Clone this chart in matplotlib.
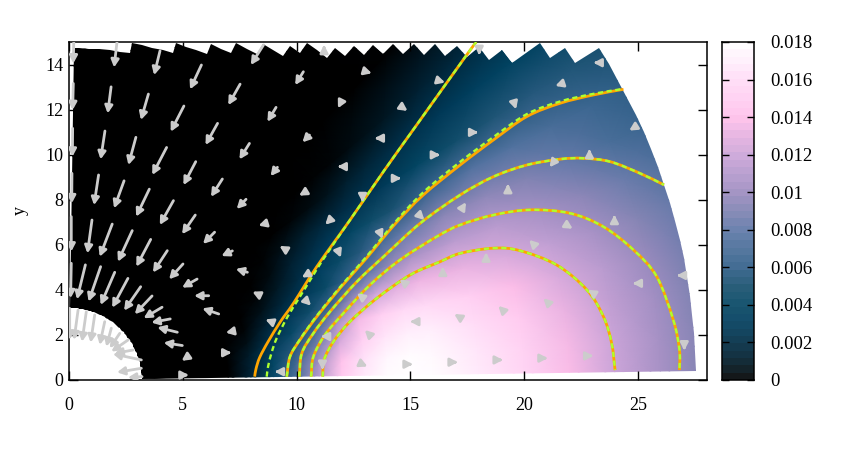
#!/usr/bin/env python3
import numpy as np
import matplotlib; matplotlib.use("Agg")
import matplotlib.pyplot as plt
from matplotlib.colors import LinearSegmentedColormap
from matplotlib.patches import FancyArrowPatch, PathPatch, Polygon
from matplotlib.path import Path

plt.rcParams["font.family"] = ["Liberation Serif", "DejaVu Serif"]

# field, rows = angle (deg), columns = radius, unit 1e-4
r_nodes = [3, 7, 8, 9, 10, 11, 12, 13, 14, 15, 16, 18, 20, 22, 24, 26, 28]
theta_nodes = [0, 4, 8, 12, 16, 20, 24, 28, 32, 36, 40, 46, 60, 90]
field = [
    [0, 0, 15, 44, 72, 112, 147, 167, 178, 180, 178, 168, 155, 138, 120, 105, 90],
    [0, 0, 14, 40, 67, 104, 142, 163, 175, 178, 176, 165, 152, 136, 119, 104, 90],
    [0, 0, 10, 33, 55, 86, 124, 150, 164, 170, 170, 160, 147, 132, 116, 102, 88],
    [0, 0, 5, 23, 42, 63, 104, 135, 150, 157, 158, 150, 138, 125, 112, 98, 85],
    [0, 0, 2, 13, 28, 46, 65, 100, 120, 128, 133, 132, 125, 115, 104, 92, 81],
    [0, 0, 0, 6, 17, 29, 43, 60, 80, 96, 105, 113, 112, 103, 94, 83, 73],
    [0, 0, 0, 2, 9, 20, 31, 43, 55, 69, 81, 93, 95, 90, 81, 71, 63],
    [0, 0, 0, 0, 4, 12, 21, 30, 38, 45, 51, 65, 75, 74, 70, 64, 58],
    [0, 0, 0, 0, 1, 5, 10, 16, 19, 24, 28, 38, 47, 53, 55, 54, 51],
    [0, 0, 0, 0, 0, 0, 2, 4, 7, 11, 15, 22, 28, 33, 36, 37, 35],
    [0, 0, 0, 0, 0, 0, 0, 0, 1, 2, 4, 8, 13, 17, 20, 22, 22],
    [0, 0, 0, 0, 0, 0, 0, 0, 0, 0, 0, 0, 1, 2, 4, 5, 5],
    [0] * 17,
    [0] * 17,
]

palette = ["#000000", "#001c2b", "#002c44", "#003c5c", "#044764", "#17506e", "#32608a", "#486d98", "#5f78a8",
           "#8083b2", "#9d8cc0", "#b498cc", "#cca5d9", "#e5b0e0", "#ffc0ea", "#ffcff2", "#ffdcf7", "#ffeffc", "#ffffff"]

# contours: orange solid and green dashed
c1_x = [8.16, 8.22, 8.38, 8.75, 9.3, 9.86, 10.89, 12.35, 13.82, 15.28, 17.48, 17.9]
c1_y = [.15, .5, 1.0, 1.7, 2.6, 3.4, 5.03, 7.1, 9.25, 11.32, 14.43, 15]
g1_x = [8.69, 8.75, 8.9, 9.13, 9.6, 10.15, 10.7, 11.2, 12.35, 13.82, 15.28, 17.48, 17.9]
g1_y = [.15, .6, 1.2, 1.86, 2.8, 3.7, 4.6, 5.4, 7.1, 9.25, 11.32, 14.43, 15]
c2_x = [9.57, 9.71, 10.15, 10.89, 11.91, 13.01, 14.33, 15.56, 17.19, 18.65, 20.12, 21.58, 23.05, 24.37]
c2_y = [.15, 1.03, 1.78, 2.81, 4.07, 5.33, 6.92, 8.2, 9.54, 10.65, 11.69, 12.28, 12.65, 12.9]
g2_y = [.15, 1.03, 1.8, 2.85, 4.12, 5.4, 7.0, 8.32, 9.68, 10.78, 11.8, 12.36, 12.7, 12.92]
c3_x = [10.12, 10.23, 10.74, 11.47, 12.65, 13.82, 15.43, 17.19, 18.65, 20.12, 21.58, 22.6, 23.78, 25.1, 26.15]
c3_y = [.15, 1.18, 2.07, 3.03, 4.36, 5.47, 6.95, 8.21, 9.02, 9.54, 9.8, 9.84, 9.69, 9.17, 8.66]
c4_x = [10.64, 10.74, 11.25, 12.06, 13.23, 14.55, 16.16, 17.19, 18.65, 20.26, 22.02, 23.49, 24.81, 25.83, 26.56, 26.83, 26.83]
c4_y = [.15, 1.03, 2.0, 2.96, 4.22, 5.33, 6.36, 6.88, 7.32, 7.55, 7.4, 6.8, 5.77, 4.59, 2.66, 1.33, .44]
c5_x = [11.15, 11.21, 11.62, 12.35, 13.53, 14.99, 16.31, 17.19, 18.65, 19.82, 21.44, 22.76, 23.49, 23.85, 24.0]
c5_y = [.15, .89, 1.7, 2.59, 3.63, 4.66, 5.25, 5.62, 5.85, 5.74, 5.1, 4.0, 2.81, 1.63, .44]

# long arrows tail -> tip
long_x0 = [.22, 2.17, 4.0, 5.82, 7.52, 9.1, 8.55, 10.3, 10.57, 6.12,
           .19, 1.85, 3.49, 5.05, 6.53, 7.93, 9.16,
           .16, 1.58, 2.94, 4.29, 5.57, 6.74, 7.78, 8.69,
           .13, 1.3, 2.42, 3.53, 4.59, 5.55, 6.4, 7.18, 7.84, 8.38, 9.5,
           .1, 1.01, 1.9, 2.78, 3.59, 4.32, 5.01, 5.63, 6.14, 6.58,
           .1, .72, 1.39, 2.01, 2.59, 3.15, 3.65, 4.09, 4.45, 4.76, 4.98,
           .03, .4, .76, 1.13, 1.57, 1.86, 2.23, 2.6, 2.81, 3.18, 3.18, 3.21]
long_y0 = [15.53, 15.53, 14.61, 13.98, 13.13, 12.1, 14.87, 13.68, 10.87, 15.6,
           13.16, 13.01, 12.69, 12.16, 11.39, 10.5, 9.44,
           11.17, 11.05, 10.77, 10.32, 9.69, 8.92, 8.02, 6.96,
           9.17, 9.1, 8.84, 8.47, 7.96, 7.32, 6.56, 5.73, 4.78, 3.77, 5.8,
           7.25, 7.1, 6.92, 6.63, 6.24, 5.74, 5.15, 4.48, 3.74, 2.93,
           5.18, 5.11, 5.03, 4.78, 4.51, 4.14, 3.73, 3.23, 2.71, 2.12, 1.53,
           3.18, 3.11, 3.03, 2.89, 2.59, 2.3, 2.07, 1.78, 1.33, .89, .52, .15]
long_x1 = [.19, 1.98, 3.74, 5.32, 7.0, 8.72, 7.99, 9.94, 10.26, 5.98,
           .16, 1.7, 3.16, 4.47, 6.0, 7.49, 8.86,
           .15, 1.39, 2.61, 3.66, 5.03, 6.24, 7.37, 8.33,
           .12, 1.1, 1.98, 2.95, 3.99, 4.97, 5.89, 6.7, 7.33, 8.06, 9.25,
           .1, .81, 1.35, 2.15, 2.96, 3.69, 4.4, 4.97, 5.5, 5.86,
           .07, .35, .86, 1.39, 1.9, 2.42, 2.89, 3.28, 3.62, 3.88, 4.16,
           .03, .22, .57, .95, 1.35, 1.64, 1.79, 1.86, 2.0, 1.93, 2.11, 2.59]
long_y1 = [14.05, 13.87, 13.53, 12.9, 12.2, 11.46, 13.98, 13.09, 10.55, 14.95,
           11.98, 11.83, 11.54, 11.02, 10.43, 9.79, 9.05,
           9.91, 9.79, 9.54, 9.1, 8.65, 8.13, 7.59, 6.85,
           7.84, 7.76, 7.62, 7.25, 6.88, 6.47, 6.04, 5.5, 4.93, 3.92, 5.95,
           5.7, 5.62, 5.47, 5.25, 5.03, 4.77, 4.47, 4.1, 3.74, 3.18,
           3.63, 3.58, 3.48, 3.33, 3.21, 3.08, 2.92, 2.74, 2.55, 2.34, 1.66,
           1.78, 1.78, 1.7, 1.66, 1.56, 1.48, 1.41, 1.26, 1.18, 1.16, .34, .11]

# short arrows, only the head shows: tip and direction
short_x = [8.63, 9.04, 6.89, 7.14, 4.95, 5.26, 13.31, 11.82, 13.43, 11.8, 10.11, 14.88, 16.53, 16.31, 14.6, 12.9, 11.21,
           10.23, 11.26, 11.95, 10.64, 13.78, 12.65, 11.07, 11.14, 15.62, 14.52, 13.0, 13.12, 14.99, 15.11, 16.43, 16.93, 17.09,
           18.03, 23.05, 21.37, 19.65, 17.99, 24.62, 22.87, 21.12, 19.29, 17.45, 23.97,
           22.14, 20.22, 18.33, 22.8, 24.77, 26.71, 20.85, 18.87, 23.05, 21.04, 19.07, 27.04]
short_y = [2.69, .37, 2.1, 1.21, .85, .22, 13.61, 12.06, 10.73, 9.47, 8.18, 11.94, 13.2, 9.99, 8.95, 7.89, 14.87,
           4.55, 6.89, 5.43, 3.3, 6.26, 3.85, 1.93, .45, 7.1, 4.47, 2.22, .6, 2.59, .7, 5.03, 2.93, .79,
           14.42, 14.08, 13.05, 12.01, 10.99, 11.07, 10.25, 9.44, 8.7, 7.89, 7.33,
           6.71, 6.22, 5.66, 4.0, 4.29, 4.64, 3.63, 3.29, 1.07, .97, .89, 1.31]
short_dx = [-1, -1, -1, 1, -1, 1, 1, -.5, -1, -1, -1, 1, 1, 1, 1, 0, 0,
            -.7, -.7, .4, .7, .4, -.8, -1, 0, .7, -.8, -.7, .9, -1, 1, 0, -.8, 1,
            0, -1, -.9, .3, 1, -.8, 0, -.6, 0, .5, 0,
            .8, -.7, 0, -.8, -1, -1, -.7, -.7, 1, 1, 1, 0]
short_dy = [.4, 0, -.2, 0, -.7, 0, -.3, -1, 0, 0, -.6, -.7, -.3, 0, 0, -1, 1,
            -.4, -.7, -1, -.7, -1, .6, 0, -1, -.7, .6, .7, -.4, 0, 0, 1, .5, 0,
            -1, 0, -.3, -1, 0, -.5, 1, -.8, 1, .8, 1,
            -.5, .7, 1, .5, 0, 0, .7, .7, 0, 0, 0, -1]

x_ticks = [0, 5, 10, 15, 20, 25]
y_ticks = [0, 2, 4, 6, 8, 10, 12, 14]
bar_ticks = [0, .002, .004, .006, .008, .01, .012, .014, .016, .018]
bar_labels = ["0", "0.002", "0.004", "0.006", "0.008", "0.01", "0.012", "0.014", "0.016", "0.018"]

W, H = 862, 453
fig = plt.figure(figsize=(W / 100, H / 100), dpi=100)
ax = fig.add_axes([69 / W, 1 - 380 / H, 638 / W, 338 / H])
cax = fig.add_axes([722 / W, 1 - 380 / H, 32 / W, 338 / H])
cmap = LinearSegmentedColormap.from_list("field", palette, N=256)

R, T = np.meshgrid(r_nodes, np.radians(theta_nodes))
mesh = ax.pcolormesh(R * np.cos(T), R * np.sin(T), np.array(field) * 1e-4, shading="gouraud",
                     cmap=cmap, vmin=0, vmax=.018, zorder=1)

# clip outline: log-polar cells, sawtooth where they stop below the top of the plot
R_IN, R_OUT, DT = 3.2, 27.55, 1.75
DL = np.radians(DT)
outline = []
th = .8
while th < 89.2 - 1e-6:
    hi = min(th + DT, 89.2)
    k = np.floor(np.log(15.0 / np.sin(np.radians(hi)) / R_IN) / DL)
    rend = min(R_OUT, R_IN * np.exp(k * DL))
    for a in (th, hi):
        outline.append((rend * np.cos(np.radians(a)), rend * np.sin(np.radians(a))))
    th = hi
for a in np.linspace(89.2, .8, 60):
    outline.append((R_IN * np.cos(np.radians(a)), R_IN * np.sin(np.radians(a))))
mesh.set_clip_path(Polygon(outline, closed=True, transform=ax.transData))

def smooth(x, y):
    # bezier through the read points
    p = np.column_stack([x, y])
    t = np.gradient(p, axis=0) / 3
    verts = [p[0]]
    for i in range(len(p) - 1):
        verts += [p[i] + t[i], p[i + 1] - t[i + 1], p[i + 1]]
    return Path(verts, [Path.MOVETO] + [Path.CURVE4] * (3 * (len(p) - 1)))

ORANGE, GREEN = "#ffa500", "#adff2f"
for x, y in [(c1_x, c1_y), (c2_x, c2_y), (c3_x, c3_y), (c4_x, c4_y), (c5_x, c5_y)]:
    ax.add_patch(PathPatch(smooth(x, y), fc="none", ec=ORANGE, lw=2.0, zorder=2, capstyle="butt"))
for x, y in [(g1_x, g1_y), (c2_x, g2_y), (c3_x, c3_y), (c4_x, c4_y), (c5_x, c5_y)]:
    ax.add_patch(PathPatch(smooth(x, y), fc="none", ec=GREEN, lw=1.7, ls=(0, (2.2, 1.5)), zorder=3, capstyle="butt"))

GREY = "#cccccc"
STYLE = "-|>,head_length=0.8,head_width=0.42"
def arrow(p0, p1):
    ax.add_patch(FancyArrowPatch(p0, p1, arrowstyle=STYLE, mutation_scale=5.5, lw=2.0, color=GREY,
                                 shrinkA=0, shrinkB=0, zorder=4))
for x0, y0, x1, y1 in zip(long_x0, long_y0, long_x1, long_y1):
    arrow((x0, y0), (x1, y1))
for x, y, dx, dy in zip(short_x, short_y, short_dx, short_dy):
    n = np.hypot(dx, dy) / .2
    arrow((x - dx / n, y - dy / n), (x, y))

ax.set_xlim(0, 28.04)
ax.set_ylim(0, 15)
ax.set_xticks(x_ticks)
ax.set_yticks(y_ticks)
ax.tick_params(direction="in", length=6.5, width=1, top=True, right=True, labelsize=13)
ax.tick_params(axis="x", pad=12)
ax.tick_params(axis="y", pad=4)
for s in ax.spines.values():
    s.set_linewidth(1.1)

levels = np.linspace(0, .018, 47)
cax.pcolormesh([0, 1], levels, ((levels[:-1] + levels[1:]) / 2)[:, None], cmap=cmap, vmin=0, vmax=.018, alpha=.92)
cax.set_xticks([])
cax.set_yticks(bar_ticks, bar_labels)
cax.yaxis.tick_right()
cax.tick_params(direction="in", length=5, width=1, left=True, right=True, labelleft=False, labelsize=13.5, pad=12)
for s in cax.spines.values():
    s.set_linewidth(1.1)

fig.text(20 / W, 1 - 211 / H, "y", rotation=90, ha="center", va="center", fontsize=13)
fig.savefig("out.png", dpi=100)
